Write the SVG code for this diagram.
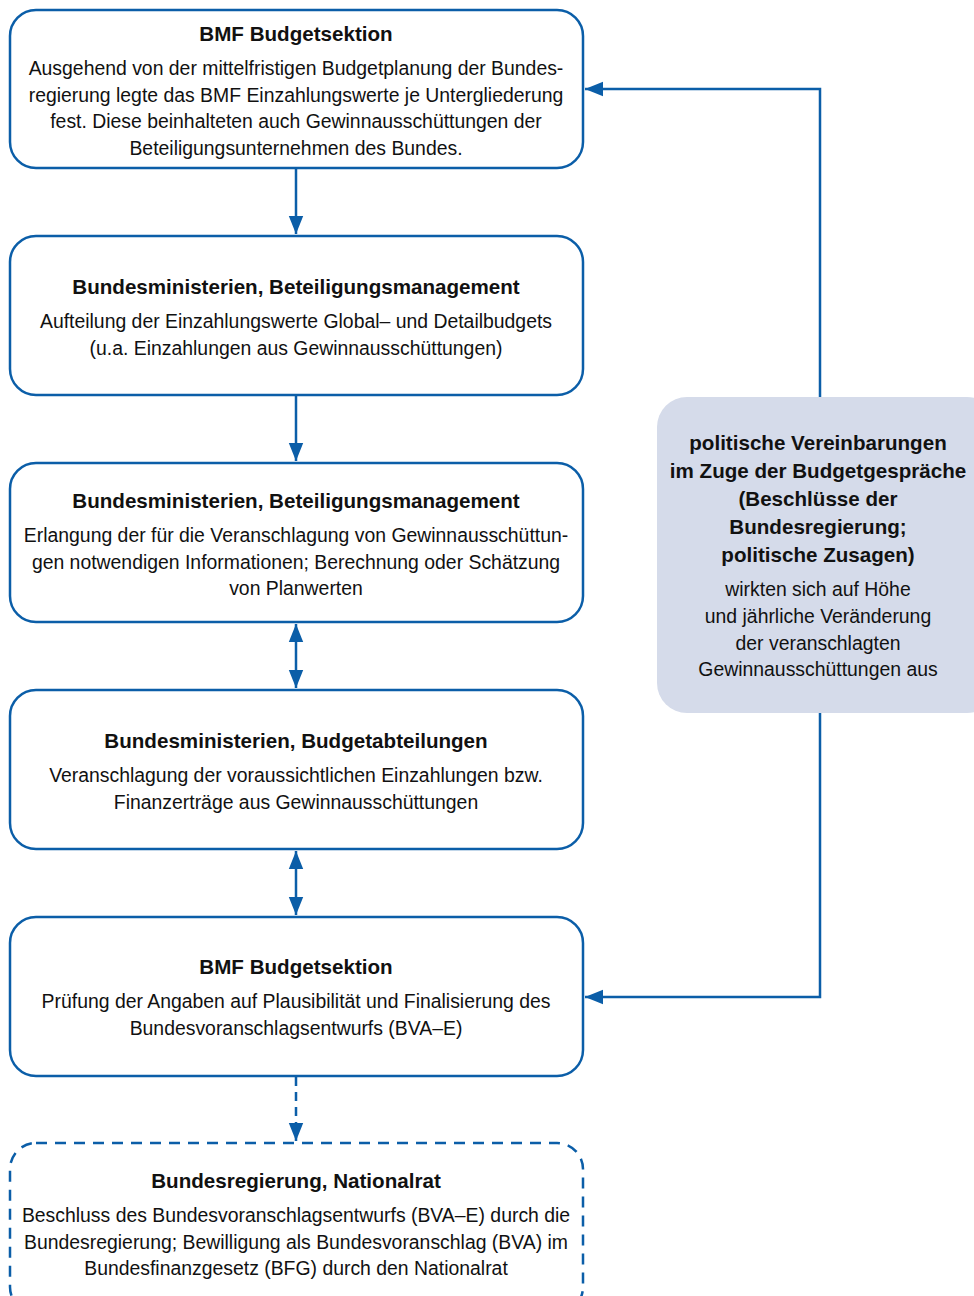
<svg xmlns="http://www.w3.org/2000/svg" width="974" height="1296" viewBox="0 0 974 1296">
<defs>
<marker id="ahb" viewBox="0 0 10 10" refX="10" refY="5" markerWidth="18" markerHeight="18" markerUnits="userSpaceOnUse" orient="auto-start-reverse">
<path d="M0,1 L10,5 L0,9 z" fill="#0b5ea8"/>
</marker>
</defs>
<style>
.box{fill:#fff;stroke:#0b5ea8;stroke-width:2.5}
.dash{fill:#fff;stroke:#0b5ea8;stroke-width:2.5;stroke-dasharray:11 8}
.side{fill:#d5dbea}
.ln{fill:none;stroke:#0b5ea8;stroke-width:2.5}
.t{font-family:"Liberation Sans",Arial,sans-serif;font-size:20.6px;font-weight:bold;fill:#111;text-anchor:middle}
.b{font-family:"Liberation Sans",Arial,sans-serif;font-size:19.4px;fill:#111;text-anchor:middle}
</style>
<rect width="974" height="1296" fill="#fff"/>
<g id="connectors">
<line class="ln" x1="296" y1="169" x2="296" y2="234" marker-end="url(#ahb)"/>
<line class="ln" x1="296" y1="396" x2="296" y2="461" marker-end="url(#ahb)"/>
<line class="ln" x1="296" y1="624" x2="296" y2="688" marker-start="url(#ahb)" marker-end="url(#ahb)"/>
<line class="ln" x1="296" y1="851" x2="296" y2="915" marker-start="url(#ahb)" marker-end="url(#ahb)"/>
<line class="ln" x1="296" y1="1077" x2="296" y2="1141" stroke-dasharray="9 6" marker-end="url(#ahb)"/>
<polyline class="ln" points="820,397 820,89 585,89" marker-end="url(#ahb)"/>
<polyline class="ln" points="820,713 820,997 585,997" marker-end="url(#ahb)"/>
</g>
<g id="n1">
<rect class="box" x="10" y="10" width="573" height="158" rx="26"/>
<text class="t" x="296" y="41">BMF Budgetsektion</text>
<text class="b" x="296" y="75">Ausgehend von der mittelfristigen Budgetplanung der Bundes-</text>
<text class="b" x="296" y="102">regierung legte das BMF Einzahlungswerte je Untergliederung</text>
<text class="b" x="296" y="128">fest. Diese beinhalteten auch Gewinnausschüttungen der</text>
<text class="b" x="296" y="155">Beteiligungsunternehmen des Bundes.</text>
</g>
<g id="n2">
<rect class="box" x="10" y="236" width="573" height="159" rx="26"/>
<text class="t" x="296" y="294">Bundesministerien, Beteiligungsmanagement</text>
<text class="b" x="296" y="328">Aufteilung der Einzahlungswerte Global– und Detailbudgets</text>
<text class="b" x="296" y="355">(u.a. Einzahlungen aus Gewinnausschüttungen)</text>
</g>
<g id="n3">
<rect class="box" x="10" y="463" width="573" height="159" rx="26"/>
<text class="t" x="296" y="508">Bundesministerien, Beteiligungsmanagement</text>
<text class="b" x="296" y="542">Erlangung der für die Veranschlagung von Gewinnausschüttun-</text>
<text class="b" x="296" y="569">gen notwendigen Informationen; Berechnung oder Schätzung</text>
<text class="b" x="296" y="595">von Planwerten</text>
</g>
<g id="n4">
<rect class="box" x="10" y="690" width="573" height="159" rx="26"/>
<text class="t" x="296" y="748">Bundesministerien, Budgetabteilungen</text>
<text class="b" x="296" y="782">Veranschlagung der voraussichtlichen Einzahlungen bzw.</text>
<text class="b" x="296" y="809">Finanzerträge aus Gewinnausschüttungen</text>
</g>
<g id="n5">
<rect class="box" x="10" y="917" width="573" height="159" rx="26"/>
<text class="t" x="296" y="974">BMF Budgetsektion</text>
<text class="b" x="296" y="1008">Prüfung der Angaben auf Plausibilität und Finalisierung des</text>
<text class="b" x="296" y="1035">Bundesvoranschlagsentwurfs (BVA–E)</text>
</g>
<g id="n6">
<rect class="dash" x="10" y="1143" width="573" height="170" rx="26"/>
<text class="t" x="296" y="1188">Bundesregierung, Nationalrat</text>
<text class="b" x="296" y="1222">Beschluss des Bundesvoranschlagsentwurfs (BVA–E) durch die</text>
<text class="b" x="296" y="1249">Bundesregierung; Bewilligung als Bundesvoranschlag (BVA) im</text>
<text class="b" x="296" y="1275">Bundesfinanzgesetz (BFG) durch den Nationalrat</text>
</g>
<g id="n7">
<rect class="side" x="657" y="397" width="340" height="316" rx="30"/>
<text class="t" x="818" y="450">politische Vereinbarungen</text>
<text class="t" x="818" y="478">im Zuge der Budgetgespräche</text>
<text class="t" x="818" y="506">(Beschlüsse der</text>
<text class="t" x="818" y="534">Bundesregierung;</text>
<text class="t" x="818" y="562">politische Zusagen)</text>
<text class="b" x="818" y="596">wirkten sich auf Höhe</text>
<text class="b" x="818" y="623">und jährliche Veränderung</text>
<text class="b" x="818" y="650">der veranschlagten</text>
<text class="b" x="818" y="676">Gewinnausschüttungen aus</text>
</g>
</svg>
